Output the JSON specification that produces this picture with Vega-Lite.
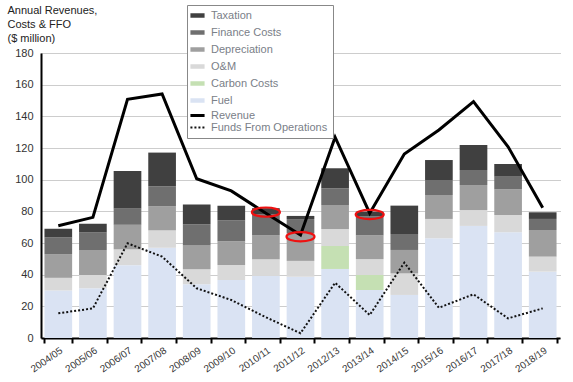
{
  "$schema": "https://vega.github.io/schema/vega-lite/v6.json",
  "width": 519,
  "height": 285,
  "autosize": "none",
  "padding": {"left": 41, "top": 53, "right": 13, "bottom": 44},
  "background": "white",
  "config": {
    "font": "Liberation Sans",
    "view": {"stroke": null}
  },
  "datasets": {
    "costs": [
      {"year": "2004/05", "category": "Fuel", "value": 30},
      {"year": "2004/05", "category": "O&M", "value": 8},
      {"year": "2004/05", "category": "Depreciation", "value": 15},
      {"year": "2004/05", "category": "Finance Costs", "value": 10.5},
      {"year": "2004/05", "category": "Taxation", "value": 5.5},
      {"year": "2005/06", "category": "Fuel", "value": 31.5},
      {"year": "2005/06", "category": "O&M", "value": 8.3},
      {"year": "2005/06", "category": "Depreciation", "value": 15.8},
      {"year": "2005/06", "category": "Finance Costs", "value": 11},
      {"year": "2005/06", "category": "Taxation", "value": 5.5},
      {"year": "2006/07", "category": "Fuel", "value": 46},
      {"year": "2006/07", "category": "O&M", "value": 10},
      {"year": "2006/07", "category": "Depreciation", "value": 15.5},
      {"year": "2006/07", "category": "Finance Costs", "value": 10.5},
      {"year": "2006/07", "category": "Taxation", "value": 23.5},
      {"year": "2007/08", "category": "Fuel", "value": 57},
      {"year": "2007/08", "category": "O&M", "value": 11},
      {"year": "2007/08", "category": "Depreciation", "value": 15.2},
      {"year": "2007/08", "category": "Finance Costs", "value": 12.6},
      {"year": "2007/08", "category": "Taxation", "value": 21.3},
      {"year": "2008/09", "category": "Fuel", "value": 34},
      {"year": "2008/09", "category": "O&M", "value": 9.5},
      {"year": "2008/09", "category": "Depreciation", "value": 15},
      {"year": "2008/09", "category": "Finance Costs", "value": 13.3},
      {"year": "2008/09", "category": "Taxation", "value": 12.5},
      {"year": "2009/10", "category": "Fuel", "value": 36.6},
      {"year": "2009/10", "category": "O&M", "value": 9.5},
      {"year": "2009/10", "category": "Depreciation", "value": 15},
      {"year": "2009/10", "category": "Finance Costs", "value": 13.2},
      {"year": "2009/10", "category": "Taxation", "value": 9.2},
      {"year": "2010/11", "category": "Fuel", "value": 39.2},
      {"year": "2010/11", "category": "O&M", "value": 10.5},
      {"year": "2010/11", "category": "Depreciation", "value": 15.3},
      {"year": "2010/11", "category": "Finance Costs", "value": 13},
      {"year": "2010/11", "category": "Taxation", "value": 4},
      {"year": "2011/12", "category": "Fuel", "value": 38.7},
      {"year": "2011/12", "category": "O&M", "value": 10},
      {"year": "2011/12", "category": "Depreciation", "value": 17.4},
      {"year": "2011/12", "category": "Finance Costs", "value": 9},
      {"year": "2011/12", "category": "Taxation", "value": 2},
      {"year": "2012/13", "category": "Fuel", "value": 43.6},
      {"year": "2012/13", "category": "Carbon Costs", "value": 14.5},
      {"year": "2012/13", "category": "O&M", "value": 10.7},
      {"year": "2012/13", "category": "Depreciation", "value": 15.2},
      {"year": "2012/13", "category": "Finance Costs", "value": 10.5},
      {"year": "2012/13", "category": "Taxation", "value": 12.7},
      {"year": "2013/14", "category": "Fuel", "value": 30.3},
      {"year": "2013/14", "category": "Carbon Costs", "value": 9.5},
      {"year": "2013/14", "category": "O&M", "value": 10},
      {"year": "2013/14", "category": "Depreciation", "value": 15},
      {"year": "2013/14", "category": "Finance Costs", "value": 12},
      {"year": "2013/14", "category": "Taxation", "value": 3},
      {"year": "2014/15", "category": "Fuel", "value": 27.2},
      {"year": "2014/15", "category": "O&M", "value": 13.6},
      {"year": "2014/15", "category": "Depreciation", "value": 14.8},
      {"year": "2014/15", "category": "Finance Costs", "value": 10.1},
      {"year": "2014/15", "category": "Taxation", "value": 17.9},
      {"year": "2015/16", "category": "Fuel", "value": 63},
      {"year": "2015/16", "category": "O&M", "value": 12.2},
      {"year": "2015/16", "category": "Depreciation", "value": 15.1},
      {"year": "2015/16", "category": "Finance Costs", "value": 9.5},
      {"year": "2015/16", "category": "Taxation", "value": 12.6},
      {"year": "2016/17", "category": "Fuel", "value": 70.8},
      {"year": "2016/17", "category": "O&M", "value": 10},
      {"year": "2016/17", "category": "Depreciation", "value": 15.8},
      {"year": "2016/17", "category": "Finance Costs", "value": 9.5},
      {"year": "2016/17", "category": "Taxation", "value": 15.8},
      {"year": "2017/18", "category": "Fuel", "value": 66.8},
      {"year": "2017/18", "category": "O&M", "value": 10.9},
      {"year": "2017/18", "category": "Depreciation", "value": 16.2},
      {"year": "2017/18", "category": "Finance Costs", "value": 8},
      {"year": "2017/18", "category": "Taxation", "value": 8},
      {"year": "2018/19", "category": "Fuel", "value": 41.9},
      {"year": "2018/19", "category": "O&M", "value": 9.5},
      {"year": "2018/19", "category": "Depreciation", "value": 16.8},
      {"year": "2018/19", "category": "Finance Costs", "value": 7},
      {"year": "2018/19", "category": "Taxation", "value": 4.2}
    ],
    "lines": [
      {"year": "2004/05", "series": "Revenue", "value": 70.9},
      {"year": "2005/06", "series": "Revenue", "value": 76.2},
      {"year": "2006/07", "series": "Revenue", "value": 150.8},
      {"year": "2007/08", "series": "Revenue", "value": 154.1},
      {"year": "2008/09", "series": "Revenue", "value": 100.6},
      {"year": "2009/10", "series": "Revenue", "value": 92.9},
      {"year": "2010/11", "series": "Revenue", "value": 78.8},
      {"year": "2011/12", "series": "Revenue", "value": 65.1},
      {"year": "2012/13", "series": "Revenue", "value": 126.8},
      {"year": "2013/14", "series": "Revenue", "value": 78.8},
      {"year": "2014/15", "series": "Revenue", "value": 116.2},
      {"year": "2015/16", "series": "Revenue", "value": 131.4},
      {"year": "2016/17", "series": "Revenue", "value": 149.3},
      {"year": "2017/18", "series": "Revenue", "value": 120.8},
      {"year": "2018/19", "series": "Revenue", "value": 82.3},
      {"year": "2004/05", "series": "Funds From Operations", "value": 15.6},
      {"year": "2005/06", "series": "Funds From Operations", "value": 18.7},
      {"year": "2006/07", "series": "Funds From Operations", "value": 59.8},
      {"year": "2007/08", "series": "Funds From Operations", "value": 51.4},
      {"year": "2008/09", "series": "Funds From Operations", "value": 31.4},
      {"year": "2009/10", "series": "Funds From Operations", "value": 24},
      {"year": "2010/11", "series": "Funds From Operations", "value": 13.1},
      {"year": "2011/12", "series": "Funds From Operations", "value": 3},
      {"year": "2012/13", "series": "Funds From Operations", "value": 34.9},
      {"year": "2013/14", "series": "Funds From Operations", "value": 14.5},
      {"year": "2014/15", "series": "Funds From Operations", "value": 47.6},
      {"year": "2015/16", "series": "Funds From Operations", "value": 19.1},
      {"year": "2016/17", "series": "Funds From Operations", "value": 27.6},
      {"year": "2017/18", "series": "Funds From Operations", "value": 12.4},
      {"year": "2018/19", "series": "Funds From Operations", "value": 18.7}
    ],
    "marks": [
      {"year": "2010/11", "value": 79.5},
      {"year": "2011/12", "value": 64},
      {"year": "2013/14", "value": 78}
    ]
  },
  "encoding": {
    "x": {
      "field": "year",
      "type": "nominal",
      "sort": null,
      "scale": {"paddingInner": 0.2, "paddingOuter": 0.1},
      "axis": {
        "title": null,
        "labelAngle": -35,
        "labelAlign": "right",
        "labelBaseline": "top",
        "labelFontSize": 10,
        "labelColor": "#333333",
        "labelPadding": 2,
        "domainColor": "#000000",
        "domainWidth": 2,
        "tickColor": "#000000",
        "tickWidth": 2,
        "tickSize": 5,
        "tickBand": "extent",
        "grid": false
      }
    },
    "y": {
      "type": "quantitative",
      "scale": {"domain": [0, 180]},
      "axis": {
        "values": [0, 20, 40, 60, 80, 100, 120, 140, 160, 180],
        "title": ["Annual Revenues,", "Costs & FFO", " ($ million)"],
        "titleAngle": 0,
        "titleAlign": "left",
        "titleBaseline": "top",
        "titleX": -34,
        "titleY": -49,
        "titleFontSize": 11,
        "titleFontWeight": "normal",
        "titleColor": "#222222",
        "titleLineHeight": 14,
        "labelFontSize": 11,
        "labelColor": "#333333",
        "labelPadding": 8,
        "domainColor": "#000000",
        "domainWidth": 2,
        "ticks": false,
        "grid": true,
        "gridColor": "#9a9a9a",
        "gridDash": [1, 1],
        "gridWidth": 1
      }
    }
  },
  "layer": [
    {
      "data": {"name": "costs"},
      "transform": [
        {"calculate": "indexof(['Fuel','Carbon Costs','O&M','Depreciation','Finance Costs','Taxation'], datum.category)", "as": "stackorder"}
      ],
      "mark": {"type": "bar"},
      "encoding": {
        "y": {"field": "value", "type": "quantitative", "stack": "zero"},
        "order": {"field": "stackorder", "type": "quantitative", "sort": "ascending"},
        "color": {
          "field": "category",
          "type": "nominal",
          "scale": {
            "domain": ["Taxation", "Finance Costs", "Depreciation", "O&M", "Carbon Costs", "Fuel", "Revenue", "Funds From Operations"],
            "range": ["#404040", "#6f6f6f", "#9f9f9f", "#d9d9d9", "#c5e0b3", "#dae3f3", "#000000", "#111111"]
          },
          "legend": {
            "title": null,
            "orient": "none",
            "legendX": 146,
            "legendY": -48,
            "symbolType": "stroke",
            "symbolSize": 200,
            "symbolStrokeWidth": 4,
            "labelFontSize": 11,
            "labelColor": "#7a8088",
            "labelOffset": 8,
            "rowPadding": -2,
            "padding": 5,
            "strokeColor": "#888888",
            "fillColor": "#ffffff",
            "cornerRadius": 0,
            "labelLimit": 200,
            "encode": {
              "symbols": {
                "update": {
                  "stroke": {"scale": "color", "field": "value"},
                  "fill": {"value": "transparent"},
                  "strokeWidth": {"signal": "datum.value === 'Revenue' ? 3 : datum.value === 'Funds From Operations' ? 2 : 4.5"},
                  "strokeDash": {"signal": "datum.value === 'Funds From Operations' ? [2, 2] : []"}
                }
              }
            }
          }
        }
      }
    },
    {
      "data": {"name": "lines"},
      "transform": [{"filter": "datum.series === 'Revenue'"}],
      "mark": {"type": "line", "strokeWidth": 3},
      "encoding": {
        "y": {"field": "value", "type": "quantitative"},
        "color": {"field": "series", "type": "nominal"}
      }
    },
    {
      "data": {"name": "lines"},
      "transform": [{"filter": "datum.series === 'Funds From Operations'"}],
      "mark": {"type": "line", "strokeWidth": 2, "strokeDash": [2, 2]},
      "encoding": {
        "y": {"field": "value", "type": "quantitative"},
        "color": {"field": "series", "type": "nominal"}
      }
    },
    {
      "data": {"name": "marks"},
      "mark": {
        "type": "point",
        "shape": "M-1,0A1,0.33,0,1,0,1,0A1,0.33,0,1,0,-1,0Z",
        "size": 784,
        "filled": false,
        "stroke": "#ee1111",
        "strokeWidth": 2.2,
        "opacity": 1
      },
      "encoding": {
        "y": {"field": "value", "type": "quantitative"}
      }
    }
  ]
}
